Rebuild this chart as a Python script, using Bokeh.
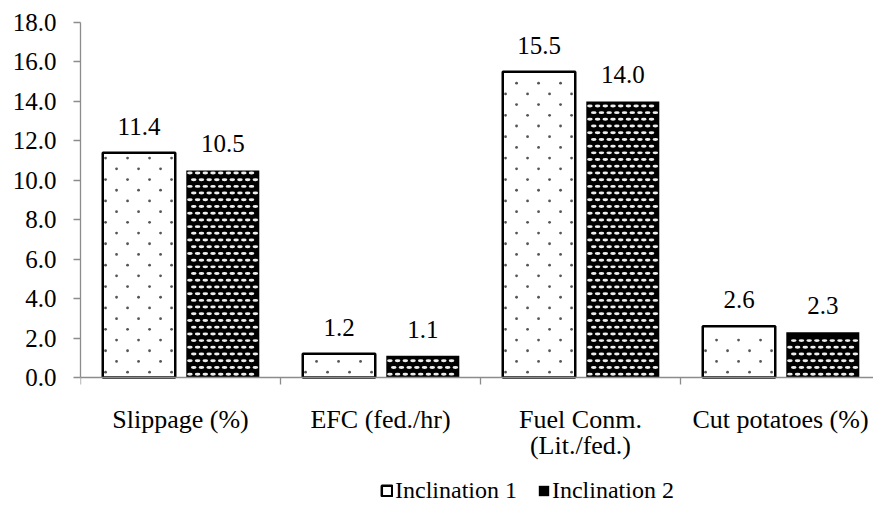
from bokeh.plotting import figure
from bokeh.models import (ColumnDataSource, FixedTicker, PrintfTickFormatter, Range1d, Legend,
                          LegendItem, LabelSet)
from bokeh.embed import file_html
from bokeh.resources import INLINE
from bokeh.core.properties import value

categories = ["Slippage (%)", "EFC (fed./hr)", "Fuel Conm.\n(Lit./fed.)", "Cut potatoes (%)"]
series_names = ["Inclination 1", "Inclination 2"]
inclination1 = [11.4, 1.2, 15.5, 2.6]
inclination2 = [10.5, 1.1, 14.0, 2.3]
y_ticks = [0, 2, 4, 6, 8, 10, 12, 14, 16, 18]

FONT = "Liberation Serif"
BAR1_W = 0.3625
BAR2_W = 0.365

# layout (pixels)
AXIS_PX = 355          # height of the 0..18 value axis
FRAME_PX = 494         # frame includes category labels and legend area below 0
Y_MAX = 18.0
Y_MIN = Y_MAX - FRAME_PX * Y_MAX / AXIS_PX

centers = [i + 0.5 for i in range(len(categories))]
x1 = [c - 0.2075 for c in centers]
x2 = [c + 0.2115 for c in centers]

s1 = ColumnDataSource(dict(x=x1, top=inclination1, lab=["%.1f" % v for v in inclination1]))
s2 = ColumnDataSource(dict(x=x2, top=inclination2, lab=["%.1f" % v for v in inclination2]))


def texture_points(xs, tops, width, dx, dy, inset_x, inset_top):
    """Staggered fill-pattern positions inside each bar (derived from the bar data)."""
    px, py = [], []
    for xc, top in zip(xs, tops):
        left, right = xc - width / 2 + inset_x, xc + width / 2 - inset_x
        row = 0
        y = dy * 0.5
        while y < top - inset_top:
            xx = left + (dx / 2 if row % 2 else 0.0) + 0.004
            while xx <= right:
                px.append(xx)
                py.append(y)
                xx += dx
            row += 1
            y += dy
    return px, py


p = figure(output_backend="svg", toolbar_location=None,
           x_range=Range1d(0, 3.965), y_range=Range1d(Y_MIN, Y_MAX))
p.frame_width = 793
p.frame_height = FRAME_PX
p.min_border_left = 80
p.min_border_top = 22
p.min_border_right = 0
p.min_border_bottom = 0
p.outline_line_color = None
p.xgrid.grid_line_color = None
p.ygrid.grid_line_color = None
p.background_fill_color = "white"

r1 = p.vbar(x="x", top="top", bottom=0, width=BAR1_W, source=s1, fill_color="white",
            line_color="black", line_width=2.5)
r2 = p.vbar(x="x", top="top", bottom=0, width=BAR2_W, source=s2, fill_color="black",
            line_color=None)

# dotted texture for Inclination 1
d1x, d1y = texture_points(x1, inclination1, BAR1_W, 0.11, 0.5426, 0.01, 0.25)
p.scatter(d1x, d1y, marker="circle", size=2.8, fill_color="#555555", line_color=None)

# light ovals texture for Inclination 2
d2x, d2y = texture_points(x2, inclination2, BAR2_W, 0.0385, 0.34, 0.014, 0.12)
p.ellipse(d2x, d2y, width=0.028, height=0.15, fill_color="#eeeeee", line_color=None)

for src in (s1, s2):
    p.add_layout(LabelSet(x="x", y="top", text="lab", source=src, text_align="center",
                          text_baseline="alphabetic", y_offset=18,
                          text_font=value(FONT), text_font_size="25px", text_color="black"))

# y axis
p.yaxis.ticker = FixedTicker(ticks=y_ticks)
p.yaxis.bounds = (0, Y_MAX)
p.yaxis.formatter = PrintfTickFormatter(format="%.1f")
p.yaxis.axis_line_color = "#8c8c8c"
p.yaxis.axis_line_width = 1.3
p.yaxis.major_tick_line_color = "#8c8c8c"
p.yaxis.major_tick_line_width = 1.3
p.yaxis.major_tick_in = 0
p.yaxis.major_tick_out = 7
p.yaxis.minor_tick_line_color = None
p.yaxis.major_label_text_font = FONT
p.yaxis.major_label_text_font_size = "25px"
p.yaxis.major_label_text_color = "black"
p.yaxis.major_label_standoff = 17

# x axis, drawn at value 0
p.xaxis.fixed_location = 0
p.xaxis.ticker = FixedTicker(ticks=centers, minor_ticks=[0, 1, 2, 3, 4])
p.xaxis.major_label_overrides = {c: cat for c, cat in zip(centers, categories)}
p.xaxis.axis_line_color = "#8c8c8c"
p.xaxis.axis_line_width = 1.3
p.xaxis.major_tick_line_color = None
p.xaxis.major_tick_in = 0
p.xaxis.major_tick_out = 0
p.xaxis.minor_tick_line_color = "#8c8c8c"
p.xaxis.minor_tick_line_width = 1.3
p.xaxis.minor_tick_in = 0
p.xaxis.minor_tick_out = 7
p.xaxis.major_label_text_font = FONT
p.xaxis.major_label_text_font_size = "26px"
p.xaxis.major_label_text_color = "black"
p.xaxis.major_label_text_line_height = 0.9
p.xaxis.major_label_standoff = 20

legend = Legend(items=[LegendItem(label=series_names[0], renderers=[r1]),
                       LegendItem(label=series_names[1], renderers=[r2])],
                orientation="horizontal", location=(300, 12),
                label_text_font=FONT, label_text_font_size="24px", label_text_color="black",
                glyph_width=13, glyph_height=13, spacing=20, label_standoff=2,
                border_line_color=None, background_fill_alpha=0, margin=0, padding=0)
p.add_layout(legend, "center")

open("out.html", "w").write(file_html(p, INLINE))
